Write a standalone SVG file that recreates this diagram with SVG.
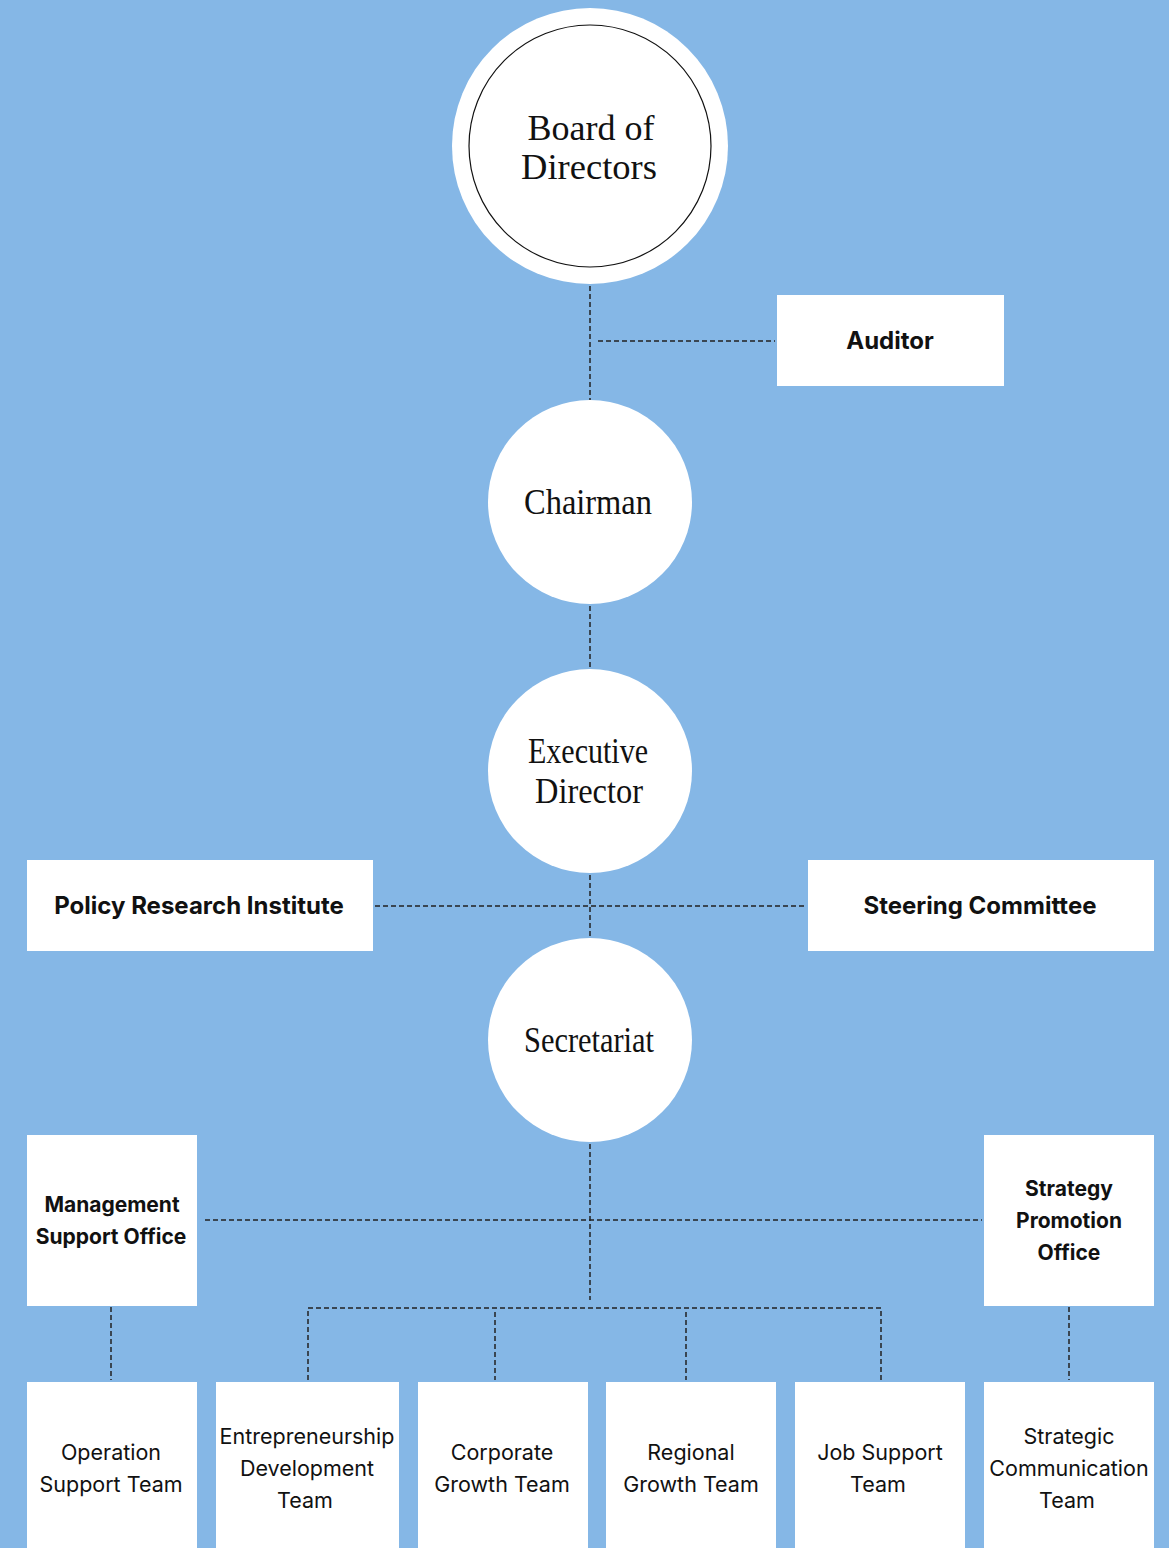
<svg xmlns="http://www.w3.org/2000/svg" width="1169" height="1548" viewBox="0 0 1169 1548">
<style>
.bg{fill:#85B7E6}
.box{fill:#fff}
.circ{fill:#fff}
.ser{font-family:"Liberation Serif","DejaVu Serif",serif;font-size:35px;fill:#111;text-anchor:middle}
.b{font-family:Inter,"Liberation Sans",sans-serif;font-weight:700;font-size:24px;fill:#111;text-anchor:middle}
.bs{font-family:Inter,"Liberation Sans",sans-serif;font-weight:700;font-size:21px;fill:#111;text-anchor:middle}
.r{font-family:Inter,"Liberation Sans",sans-serif;font-weight:400;font-size:21.5px;fill:#111;text-anchor:middle}
.c{fill:none;stroke:#222;stroke-width:1.5;stroke-dasharray:5 3}
</style>
<rect class="bg" x="0" y="0" width="1169" height="1548"/>
<g id="connectors">
<path class="c" d="M590 286V400"/>
<path class="c" d="M598 341H775"/>
<path class="c" d="M590 606V668"/>
<path class="c" d="M590 875V937"/>
<path class="c" d="M375 906H806"/>
<path class="c" d="M590 1144V1300"/>
<path class="c" d="M205 1220H982"/>
<path class="c" d="M308 1380V1308H881V1380"/>
<path class="c" d="M495 1312V1380"/>
<path class="c" d="M686 1312V1380"/>
<path class="c" d="M111 1307V1380"/>
<path class="c" d="M1069 1307V1380"/>
</g>
<g id="board">
<circle class="circ" cx="590" cy="146" r="138"/>
<circle cx="590" cy="146" r="121" fill="none" stroke="#111" stroke-width="1.2"/>
<text class="ser" x="591" y="140" textLength="127" lengthAdjust="spacingAndGlyphs">Board of</text>
<text class="ser" x="589" y="179" textLength="136" lengthAdjust="spacingAndGlyphs">Directors</text>
</g>
<g id="auditor">
<rect class="box" x="777" y="295" width="227" height="91"/>
<text class="b" x="890" y="349">Auditor</text>
</g>
<g id="chairman">
<circle class="circ" cx="590" cy="502" r="102"/>
<text class="ser" x="588" y="514" textLength="128" lengthAdjust="spacingAndGlyphs">Chairman</text>
</g>
<g id="executive">
<circle class="circ" cx="590" cy="771" r="102"/>
<text class="ser" x="588" y="763" textLength="120" lengthAdjust="spacingAndGlyphs">Executive</text>
<text class="ser" x="589" y="803" textLength="108" lengthAdjust="spacingAndGlyphs">Director</text>
</g>
<g id="policy">
<rect class="box" x="27" y="860" width="346" height="91"/>
<text class="b" x="199" y="914">Policy Research Institute</text>
</g>
<g id="steering">
<rect class="box" x="808" y="860" width="346" height="91"/>
<text class="b" x="980" y="914">Steering Committee</text>
</g>
<g id="secretariat">
<circle class="circ" cx="590" cy="1040" r="102"/>
<text class="ser" x="589" y="1052" textLength="130" lengthAdjust="spacingAndGlyphs">Secretariat</text>
</g>
<g id="management">
<rect class="box" x="27" y="1135" width="170" height="171"/>
<text class="bs" x="112" y="1212">Management</text>
<text class="bs" x="111" y="1244">Support Office</text>
</g>
<g id="strategy">
<rect class="box" x="984" y="1135" width="170" height="171"/>
<text class="bs" x="1069" y="1196">Strategy</text>
<text class="bs" x="1069" y="1228">Promotion</text>
<text class="bs" x="1069" y="1260">Office</text>
</g>
<g id="operation">
<rect class="box" x="27" y="1382" width="170" height="166"/>
<text class="r" x="111" y="1460">Operation</text>
<text class="r" x="111" y="1492">Support Team</text>
</g>
<g id="entrepreneurship">
<rect class="box" x="216" y="1382" width="183" height="166"/>
<text class="r" x="307" y="1444">Entrepreneurship</text>
<text class="r" x="307" y="1476">Development</text>
<text class="r" x="305" y="1508">Team</text>
</g>
<g id="corporate">
<rect class="box" x="418" y="1382" width="170" height="166"/>
<text class="r" x="502" y="1460">Corporate</text>
<text class="r" x="502" y="1492">Growth Team</text>
</g>
<g id="regional">
<rect class="box" x="606" y="1382" width="170" height="166"/>
<text class="r" x="691" y="1460">Regional</text>
<text class="r" x="691" y="1492">Growth Team</text>
</g>
<g id="jobsupport">
<rect class="box" x="795" y="1382" width="170" height="166"/>
<text class="r" x="880" y="1460">Job Support</text>
<text class="r" x="878" y="1492">Team</text>
</g>
<g id="strategic">
<rect class="box" x="984" y="1382" width="170" height="166"/>
<text class="r" x="1069" y="1444">Strategic</text>
<text class="r" x="1069" y="1476">Communication</text>
<text class="r" x="1067" y="1508">Team</text>
</g>
</svg>
